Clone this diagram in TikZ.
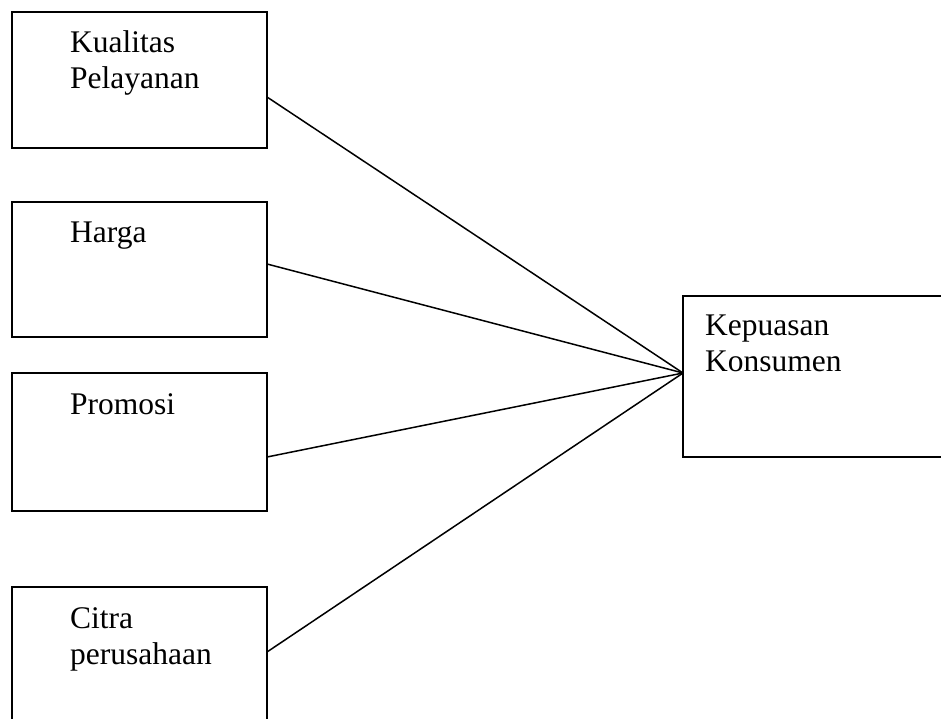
\documentclass[tikz,border=0pt]{standalone}
\usepackage{fontspec}
\setmainfont{Liberation Serif}
\begin{document}
\begin{tikzpicture}[x=1pt,y=-1pt,
  box/.style={draw=black,line width=1.5pt},
  lbl/.style={anchor=base west,inner sep=0pt,align=left,font=\fontsize{31.5}{36}\selectfont},
  conn/.style={draw=black,line width=1.5pt}]
\useasboundingbox (0,0) rectangle (941,719);
\clip (0,0) rectangle (941,719);
% boxes
\draw[box] (12,12) rectangle (267,148);
\draw[box] (12,202) rectangle (267,337);
\draw[box] (12,373) rectangle (267,511);
\draw[box] (12,730) -- (12,587) -- (267,587) -- (267,730);
\draw[box] (950,296) -- (683,296) -- (683,457) -- (950,457);
% labels (anchored at the baseline of the last line)
\node[lbl] (t1) at (70,89) {Kualitas\\Pelayanan};
\node[lbl] (t2) at (70,243) {Harga};
\node[lbl] (t3) at (70,414) {Promosi};
\node[lbl] (t4) at (70,664) {Citra\\perusahaan};
\node[lbl] (t5) at (705,371) {Kepuasan\\Konsumen};
% connector endpoints
\coordinate (s1) at (267,97);
\coordinate (s2) at (267,264);
\coordinate (s3) at (267,457);
\coordinate (s4) at (267,652);
\coordinate (apex) at (683,373);
\draw[conn] (s1) -- (apex);
\draw[conn] (s2) -- (apex);
\draw[conn] (s3) -- (apex);
\draw[conn] (s4) -- (apex);
\end{tikzpicture}
\end{document}
